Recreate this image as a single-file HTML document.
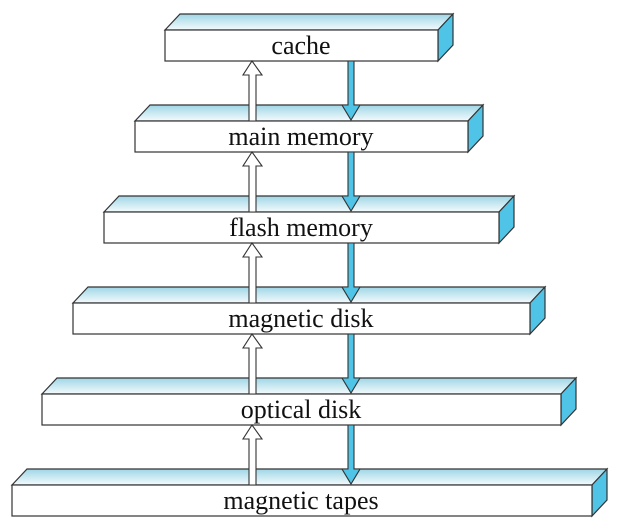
<!DOCTYPE html>
<html><head><meta charset="utf-8"><style>html,body{margin:0;padding:0;background:#fff}</style></head>
<body>
<svg width="617" height="527" viewBox="0 0 617 527" xmlns="http://www.w3.org/2000/svg">
<defs>
<linearGradient id="g" x1="0" y1="0" x2="0" y2="1">
<stop offset="0" stop-color="#9fd6e6"/><stop offset="1" stop-color="#f4fbfd"/>
</linearGradient>
</defs>
<g stroke="#333" stroke-width="1.2" font-family="Liberation Serif, serif" font-size="26" text-anchor="middle">
<g>
<polygon points="165,30 180,14 453,14 438,30" fill="url(#g)"/>
<polygon points="438,30 453,14 453,45 438,61" fill="#4fc4e6"/>
<rect x="165" y="30" width="273" height="31" fill="#fff"/>
<text x="301" y="54" stroke="none" fill="#111">cache</text>
</g>
<g>
<polygon points="135,121 150,105 483,105 468,121" fill="url(#g)"/>
<polygon points="468,121 483,105 483,136 468,152" fill="#4fc4e6"/>
<rect x="135" y="121" width="333" height="31" fill="#fff"/>
<text x="301" y="145" stroke="none" fill="#111">main memory</text>
</g>
<g>
<polygon points="104,212 119,196 514,196 499,212" fill="url(#g)"/>
<polygon points="499,212 514,196 514,227 499,243" fill="#4fc4e6"/>
<rect x="104" y="212" width="395" height="31" fill="#fff"/>
<text x="301" y="236" stroke="none" fill="#111">flash memory</text>
</g>
<g>
<polygon points="73,303 88,287 545,287 530,303" fill="url(#g)"/>
<polygon points="530,303 545,287 545,318 530,334" fill="#4fc4e6"/>
<rect x="73" y="303" width="457" height="31" fill="#fff"/>
<text x="301" y="327" stroke="none" fill="#111">magnetic disk</text>
</g>
<g>
<polygon points="42,394 57,378 576,378 561,394" fill="url(#g)"/>
<polygon points="561,394 576,378 576,409 561,425" fill="#4fc4e6"/>
<rect x="42" y="394" width="519" height="31" fill="#fff"/>
<text x="301" y="418" stroke="none" fill="#111">optical disk</text>
</g>
<g>
<polygon points="12,485 27,469 607,469 592,485" fill="url(#g)"/>
<polygon points="592,485 607,469 607,500 592,516" fill="#4fc4e6"/>
<rect x="12" y="485" width="580" height="31" fill="#fff"/>
<text x="301" y="509" stroke="none" fill="#111">magnetic tapes</text>
</g>
</g>
<g stroke="#333" stroke-width="1.1">
<g id="a">
<polygon points="252,61 262,75 256,75 256,121 249,121 249,75 243,75" fill="#fff"/>
<polygon points="348,61 354,61 354,105 360,105 351,120 342,105 348,105" fill="#4fc4e6"/>
</g>
<use href="#a" y="91"/>
<use href="#a" y="182"/>
<use href="#a" y="273"/>
<use href="#a" y="364"/>
</g>
</svg>
</body></html>
